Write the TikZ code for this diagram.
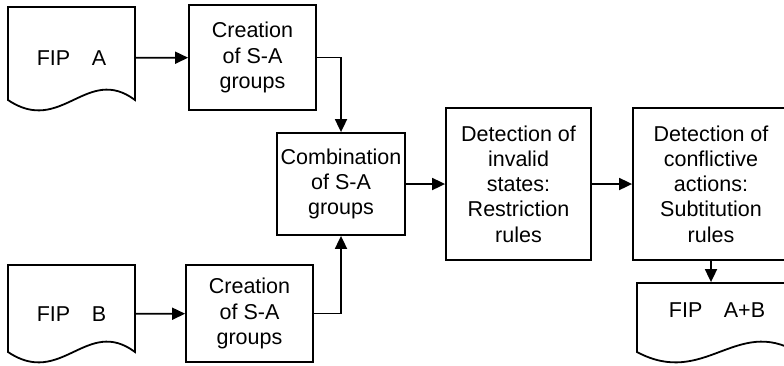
\documentclass[tikz,border=0pt]{standalone}
\usepackage{fontspec}
\setmainfont{Liberation Sans}
\usetikzlibrary{arrows.meta}
\begin{document}
\begin{tikzpicture}[x=1pt,y=-1pt,line width=1.8pt,
    font=\fontsize{21.5}{25.3}\selectfont,
    box/.style={draw,rectangle,align=center,inner sep=1pt},
    doc/.style={rectangle,align=center,inner sep=1pt},
    arr/.style={-{Triangle[length=13pt,width=12pt]}}]
  \clip (0,0) rectangle (784,365);
  % document outlines (left/right/top/side bottom)
  \foreach \l/\r/\t/\b in {8/135/7/100,8/135/265/352,637/797/283/352}
    \draw (\l,\t) -- (\r,\t) -- (\r,\b)
      .. controls ({\l+0.62*(\r-\l)},{\b-36}) and ({\l+0.42*(\r-\l)},{\b+36}) .. (\l,\b) -- cycle;
  \node[doc,minimum width=127pt,minimum height=40pt] (fipA)  at (71.5,58)  {FIP\quad A};
  \node[doc,minimum width=127pt,minimum height=40pt] (fipB)  at (71.5,314) {FIP\quad B};
  \node[doc,minimum width=160pt,minimum height=54pt] (fipAB) at (717,310)  {FIP\quad A+B};
  % process boxes
  \node[box,minimum width=127pt,minimum height=105pt] (creaA) at (252.5,57.5) {Creation\\of S-A\\groups};
  \node[box,minimum width=127pt,minimum height=97pt]  (creaB) at (249.5,313.5) {Creation\\of S-A\\groups};
  \node[box,minimum width=128pt,minimum height=102pt] (comb)  at (341,184) {Combination\\of S-A\\groups};
  \node[box,minimum width=145pt,minimum height=152pt] (det1)  at (518.5,184) {Detection of\\invalid\\states:\\Restriction\\rules};
  \node[box,minimum width=156pt,minimum height=152pt] (det2)  at (711,184) {Detection of\\conflictive\\actions:\\Subtitution\\rules};
  % connectors
  \draw[arr] (fipA) -- (creaA);
  \draw[arr] (fipB) -- (creaB);
  \draw[arr] (creaA.east) -| (comb.north);
  \draw[arr] (creaB.east) -| (comb.south);
  \draw[arr] (comb) -- (det1);
  \draw[arr] (det1) -- (det2);
  \draw[arr] (det2.south) -- (det2.south |- fipAB.north);
\end{tikzpicture}
\end{document}
